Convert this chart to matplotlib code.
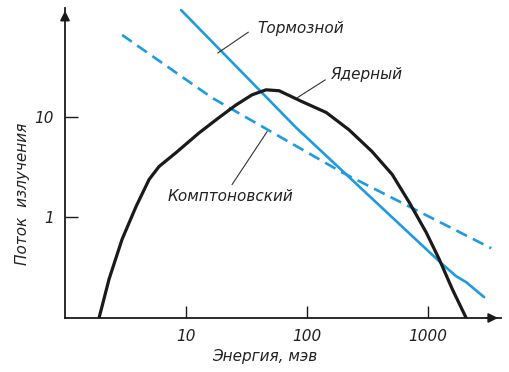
import matplotlib
matplotlib.use("Agg")
import matplotlib.pyplot as plt

# Nuclear gamma flux (black curve)
nuclear_energy = [1.91, 2.31, 2.96, 3.86, 4.95, 5.98, 8.27, 12.8, 18.7, 25.9, 35.1, 45.8,
                  58.7, 91, 144, 222, 344, 504, 697, 962, 1233, 1580, 2060]
nuclear_flux = [0.1, 0.243, 0.605, 1.28, 2.38, 3.2, 4.4, 6.9, 9.8, 13.1, 16.5, 18.5,
                18.1, 14.1, 11.0, 7.4, 4.5, 2.67, 1.41, 0.71, 0.384, 0.194, 0.1]

# Bremsstrahlung (solid blue)
brems_energy = [9.1, 81, 1306, 1702, 2060, 2900]
brems_flux = [114.6, 7.8, 0.343, 0.26, 0.227, 0.161]

# Compton (dashed blue)
compton_energy = [2.96, 16.4, 195, 575, 3320]
compton_flux = [64.9, 15.4, 2.79, 1.44, 0.493]

x_ticks = [10, 100, 1000]
y_ticks = [1, 10]

blue = "#1e9be0"
ink = "#1a1a1a"
font = dict(family="DejaVu Sans", style="italic", fontsize=11, color="#222222")

fig = plt.figure(figsize=(5.10, 3.72), dpi=100)
ax = fig.add_axes([0.1275, 0.1452, 0.982 - 0.1275, 0.9785 - 0.1452])
ax.set_xscale("log")
ax.set_yscale("log")
ax.set_xlim(1, 10 ** 3.6)
ax.set_ylim(0.1, 10 ** 2.08)

ax.plot(brems_energy, brems_flux, color=blue, lw=1.9, solid_capstyle="round")
ax.plot(compton_energy, compton_flux, color=blue, lw=1.9, ls=(0, (4.5, 2.5)))
ax.plot(nuclear_energy, nuclear_flux, color=ink, lw=2.3,
        solid_joinstyle="round", solid_capstyle="round")

# axes with arrows, no frame on top/right
for side in ("top", "right"):
    ax.spines[side].set_visible(False)
for side in ("left", "bottom"):
    ax.spines[side].set_linewidth(1.3)
    ax.spines[side].set_color(ink)
ax.annotate("", xy=(1.0, 0), xytext=(0.96, 0), xycoords="axes fraction",
            arrowprops=dict(arrowstyle="-|>", color=ink, lw=1.3, mutation_scale=14))
ax.annotate("", xy=(0, 1.0), xytext=(0, 0.95), xycoords="axes fraction",
            arrowprops=dict(arrowstyle="-|>", color=ink, lw=1.3, mutation_scale=14))

ax.set_xticks(x_ticks)
ax.set_xticklabels([str(v) for v in x_ticks])
ax.set_yticks(y_ticks)
ax.set_yticklabels([str(v) for v in y_ticks])
ax.minorticks_off()
ax.tick_params(direction="in", length=9, width=1.0, color=ink, pad=8)
for lbl in ax.get_xticklabels() + ax.get_yticklabels():
    lbl.set_fontfamily("DejaVu Sans")
    lbl.set_fontstyle("italic")
    lbl.set_fontsize(11)
    lbl.set_color("#222222")

ax.set_ylabel("Поток  излучения", **font)
ax.yaxis.set_label_coords(-0.08, 0.40)
ax.set_xlabel("Энергия, мэв", **font)
ax.xaxis.set_label_coords((265 - 65) / 436, -0.1)

# leader lines and curve names
leader = dict(color="#333333", lw=0.8)
ax.plot([32.6, 18.3], [69, 43], **leader)
ax.text(38.6, 76, "Тормозной", va="center", ha="left", **font)
ax.plot([141, 82.6], [23.2, 15.4], **leader)
ax.text(155, 26, "Ядерный", va="center", ha="left", **font)
ax.plot([24, 46.7], [2.12, 7.1], **leader)
ax.text(7.1, 1.6, "Комптоновский", va="center", ha="left", **font)

fig.savefig("out.png", dpi=100)
